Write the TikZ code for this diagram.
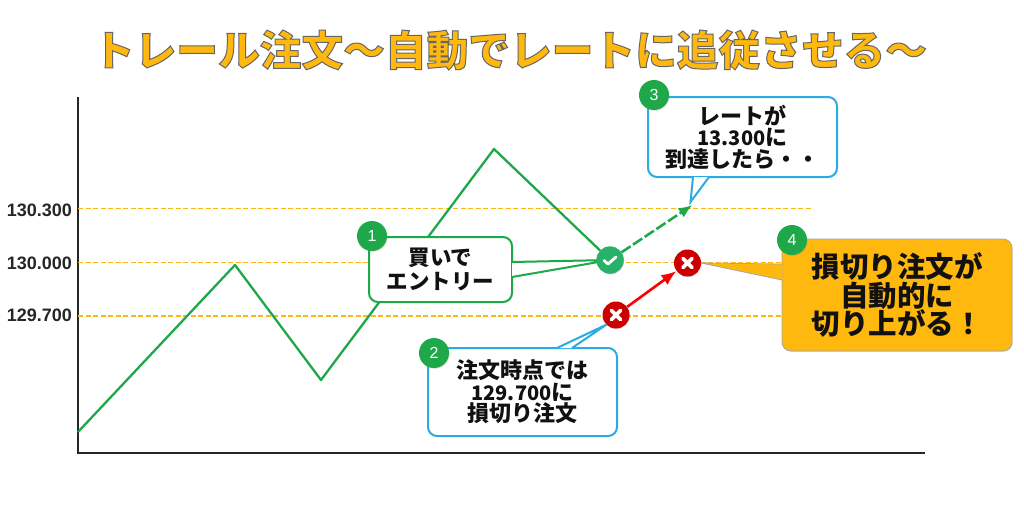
\documentclass[tikz,border=0pt]{standalone}
\usepackage{fontspec}
\setmainfont{Liberation Sans}
\newfontfamily\jpfont{Noto Sans CJK JP}
\usetikzlibrary{arrows.meta,shadows}
\definecolor{Ink}{HTML}{111111}
\definecolor{Leaf}{HTML}{1FA84A}
\definecolor{Mint}{HTML}{27B26A}
\definecolor{Sky}{HTML}{2BABE2}
\definecolor{Amber}{HTML}{FFB80D}
\definecolor{Crimson}{HTML}{CC0000}
\definecolor{Signal}{HTML}{FF0000}
\tikzset{
  softshadow/.style={drop shadow={shadow xshift=.6pt,shadow yshift=-.8pt,opacity=.25}},
  bubble/.style={rounded corners=9pt,line width=2pt,fill=white,softshadow,align=center,inner sep=0pt,text=Ink,font=\jpfont\bfseries\fontsize{22}{21.5}\selectfont},
  tail/.style={fill=white,line width=2pt,line join=miter},
  badge/.style={circle,fill=Leaf,minimum size=30pt,inner sep=0pt,text=white,font=\fontsize{16}{16}\selectfont,softshadow},
  price/.style={font=\bfseries\fontsize{18}{18}\selectfont,text=black!85},
  level/.style={draw=Amber,line width=1.5pt,dash pattern=on 5pt off 2.5pt},
  trend/.style={draw=Leaf,line width=2.3pt,line join=round},
  crossmark/.style={circle,fill=Crimson,minimum size=27pt,inner sep=0pt,softshadow,path picture={
    \draw[white,line width=3.6pt,line cap=round] ([shift={(-4.5,-4.5)}]path picture bounding box.center) -- ++(9,9) ++(-9,0) -- ++(9,-9);}},
  checkmark/.style={circle,fill=Mint,minimum size=27pt,inner sep=0pt,softshadow,path picture={
    \draw[white,line width=2.8pt,line cap=round,line join=round] ([shift={(-6,0.5)}]path picture bounding box.center) -- ++(4,3.5) -- ++(8,-7);}}
}
\begin{document}
\begin{tikzpicture}[x=1pt,y=-1pt]
  \useasboundingbox[fill=white] (0,0) rectangle (1024,525);
  \node (title) at (510,50) {\jpfont\fontsize{41.7}{42}\selectfont\bfseries\color{Amber}\special{pdf:code 2 Tr 1 w 0.4 G}トレール注文～自動でレートに追従させる～\special{pdf:code 0 Tr 0 w 0 G}};

  \coordinate (top) at (78,97);
  \coordinate (origin) at (78,453);
  \coordinate (end) at (925,453);
  \draw[line width=1.6pt,black!85] (top) -- (origin) -- (end);

  \node[price,anchor=east] (p1) at (75.5,210) {130.300};
  \node[price,anchor=east] (p2) at (75.5,263) {130.000};
  \node[price,anchor=east] (p3) at (75.5,315) {129.700};
  \coordinate (e1) at (813,208.5);
  \coordinate (e2) at (813,262.6);
  \coordinate (e3) at (813,316);
  \draw[level] (78,208.5) -- (e1);
  \draw[level] (78,262.6) -- (e2);
  \draw[level] (78,316) -- (e3);

  \coordinate (c0) at (78,432);
  \coordinate (c1) at (235,265);
  \coordinate (c2) at (321,380);
  \coordinate (c3) at (494,149);
  \node[checkmark] (check) at (610,260) {};
  \node[crossmark] (xa) at (616,315) {};
  \node[crossmark] (xb) at (687.5,263) {};
  \coordinate (goal) at (692.5,205);
  \draw[trend] (c0) -- (c1) -- (c2) -- (c3) -- (check);
  \draw[draw=Leaf,line width=2.6pt,dash pattern=on 11pt off 3pt,-{Latex[length=14pt,width=11pt]}] (check) -- (goal);
  \draw[draw=Signal,line width=2.6pt,-{Latex[length=15pt,width=12pt]}] (xa) -- (xb);

  \node[bubble,draw=Leaf,minimum width=143pt,minimum height=65pt,font=\jpfont\bfseries\fontsize{21.5}{23.5}\selectfont] (entry) at (440.5,269.5) {買いで\\エントリー};
  \draw[tail,draw=Leaf] (512,262) -- (check.center) -- (512,277);
  \node[checkmark] at (check) {};
  \node[badge] (b1) at (372,236) {1};

  \node[bubble,draw=Sky,minimum width=189pt,minimum height=88pt] (stop) at (522.5,392) {注文時点では\\{\fontsize{20}{21.5}\selectfont 129.700}に\\損切り注文};
  \draw[tail,draw=Sky] (557,348) -- (xa.225) -- (572,348);
  \node[badge] (b2) at (434,353) {2};

  \node[bubble,draw=Sky,minimum width=189pt,minimum height=80pt] (rate) at (742.5,137) {レートが\\{\fontsize{20}{21.5}\selectfont 13.300}に\\到達したら・・};
  \draw[tail,draw=Sky] (693,177) -- ([shift={(-2,-3)}]goal) -- (709,177);
  \node[badge] (b3) at (654,95) {3};

  \node[bubble,draw=black!35,line width=.8pt,fill=Amber,minimum width=230pt,minimum height=112pt,font=\jpfont\bfseries\fontsize{28.5}{28.5}\selectfont] (raise) at (897,295) {損切り注文が\\自動的に\\切り上がる！};
  \draw[tail,fill=Amber,draw=black!35,line width=.8pt] (782,264) -- (xb.east) -- (782,280);
  \node[badge] (b4) at (792,240) {4};
\end{tikzpicture}
\end{document}
